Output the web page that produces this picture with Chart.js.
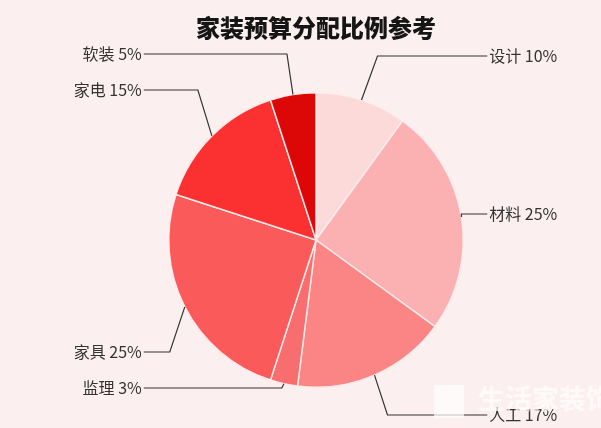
<!DOCTYPE html>
<html>
<head>
<meta charset="utf-8">
<script src="https://cdn.jsdelivr.net/npm/chart.js@4"></script>
<style>
  html, body { margin: 0; padding: 0; background: #fcefef; }
  #wrap { width: 601px; height: 428px; }
</style>
</head>
<body>
<div id="wrap"><canvas id="budgetChart" width="601" height="428"></canvas></div>
<script>
// Data
const categories = ["设计", "材料", "人工", "监理", "家具", "家电", "软装"];
const shares = [10, 25, 17, 3, 25, 15, 5];
const sliceColors = ["#fcdada", "#fbb1b1", "#fb8585", "#f86e6e", "#fa5a5a", "#fb3131", "#dc0808"];

// Leader line layout: elbow offset from the slice edge point, y of the horizontal run, side
const leaderLayout = [
  { dx: 16, y: 56, side: "right" },
  { dx: 0, y: 214, side: "right" },
  { dx: 13, y: 415, side: "right" },
  { dx: -2, y: 388, side: "left" },
  { dx: -15, y: 352, side: "left" },
  { dx: -14, y: 90, side: "left" },
  { dx: -6, y: 54, side: "left" }
];

const LABEL_FONT = "16px 'Noto Sans CJK SC', 'Noto Sans', sans-serif";

const leaderLabels = {
  id: "leaderLabels",
  afterDatasetsDraw(chart) {
    const ctx = chart.ctx;
    const meta = chart.getDatasetMeta(0);
    ctx.save();
    meta.data.forEach((arc, i) => {
      const p = arc.getProps(["x", "y", "startAngle", "endAngle", "outerRadius"], true);
      const mid = (p.startAngle + p.endAngle) / 2;
      const sx = p.x + Math.cos(mid) * p.outerRadius;
      const sy = p.y + Math.sin(mid) * p.outerRadius;
      const lay = leaderLayout[i];
      const ex = sx + lay.dx;
      const right = lay.side === "right";
      const endX = right ? p.x + p.outerRadius + 24 : p.x - p.outerRadius - 25;

      ctx.strokeStyle = "#333";
      ctx.lineWidth = 1.2;
      ctx.beginPath();
      ctx.moveTo(sx, sy);
      ctx.lineTo(ex, lay.y);
      ctx.lineTo(endX, lay.y);
      ctx.stroke();

      ctx.font = LABEL_FONT;
      ctx.fillStyle = "#333";
      ctx.textBaseline = "middle";
      ctx.textAlign = right ? "left" : "right";
      const text = categories[i] + " " + shares[i] + "%";
      ctx.fillText(text, right ? endX + 2 : endX - 2, lay.y);
    });
    ctx.restore();
  }
};

// faint watermark in the corner, as in the source image
const watermark = {
  id: "watermark",
  afterDraw(chart) {
    const ctx = chart.ctx;
    ctx.save();
    ctx.fillStyle = "rgba(255,255,255,0.7)";
    ctx.fillRect(434, 385, 30, 33);
    ctx.font = "bold 27px 'Noto Sans CJK SC', sans-serif";
    ctx.textAlign = "left";
    ctx.textBaseline = "middle";
    ctx.fillText("生活家装饰", 478, 399);
    ctx.restore();
  }
};

new Chart(document.getElementById("budgetChart"), {
  type: "pie",
  data: {
    labels: categories,
    datasets: [{
      data: shares,
      backgroundColor: sliceColors,
      borderColor: "rgba(255,236,236,0.95)",
      borderWidth: 1.5
    }]
  },
  options: {
    responsive: false,
    animation: false,
    layout: { padding: { top: 0, bottom: 40, left: 168, right: 137 } },
    plugins: {
      legend: { display: false },
      tooltip: { enabled: false },
      title: {
        display: true,
        text: "家装预算分配比例参考",
        color: "#151515",
        font: { size: 24, weight: "900", family: "'Noto Sans CJK SC', sans-serif" },
        padding: { top: 13, bottom: 50.2 }
      }
    }
  },
  plugins: [leaderLabels, watermark]
});
</script>
</body>
</html>
